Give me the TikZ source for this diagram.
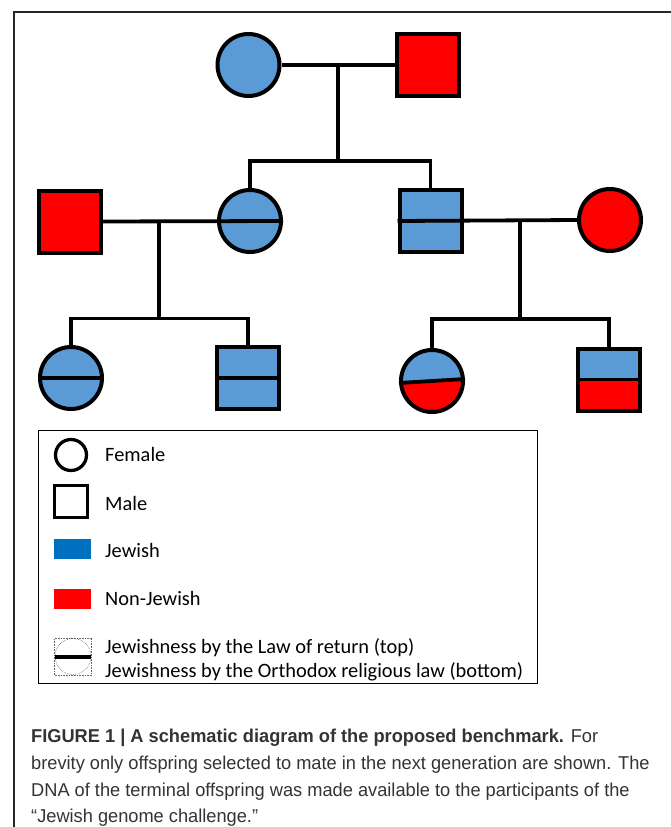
\documentclass[tikz,border=0pt]{standalone}
\usepackage{fontspec}
\setmainfont{Carlito}
\newfontfamily\capfont[FakeStretch=0.98]{Liberation Sans}
\definecolor{jblue}{HTML}{5B9BD5}
\definecolor{jdark}{HTML}{0070C0}
\definecolor{nred}{HTML}{FF0000}
\definecolor{capgray}{HTML}{333333}
\begin{document}
\begin{tikzpicture}[x=1pt,y=-1pt,
  fem/.style={circle, draw, line width=4pt, minimum size=62pt, inner sep=0pt},
  mal/.style={rectangle, draw, line width=4pt, minimum size=62pt, inner sep=0pt},
  conn/.style={line width=3.8pt},
  bluefill/.style={fill=jblue},
  redfill/.style={fill=nred},
  halfred/.style={fill=jblue, path picture={\fill[nred] ([yshift=-#1]path picture bounding box.west) -- ([yshift=#1]path picture bounding box.east) -- (path picture bounding box.south east) -- (path picture bounding box.south west) -- cycle;}},
  legtext/.style={anchor=base west, inner sep=0pt, font=\fontsize{20.4}{24}\selectfont},
  captext/.style={anchor=base west, inner sep=0pt, text=capgray, font=\capfont\fontsize{18.6}{22}\selectfont},
  lbox/.style={draw, line width=1.2pt, inner sep=0pt, minimum width=499pt, minimum height=252.6pt},
  swatch/.style={inner sep=0pt, minimum width=36.7pt, minimum height=20pt},
]
\useasboundingbox (0,0) rectangle (671,827);
% outer frame
\coordinate (fb) at (14,827);
\coordinate (ftl) at (14,12);
\coordinate (fr) at (671,12);
\draw[line width=1.4pt, black!85] (fb) -- (ftl) -- (fr);

% generation 1
\node[fem, bluefill] (t1) at (248.5,65) {};
\node[mal, redfill] (t2) at (428,65) {};
% generation 2
\node[mal, redfill] (g1) at (70,221.5) {};
\node[fem, bluefill] (g2) at (250,221) {};
\node[mal, bluefill] (g3) at (430.5,221) {};
\node[fem, redfill] (g4) at (610,220) {};
% generation 3
\node[fem, bluefill] (c1) at (71,378) {};
\node[mal, bluefill] (c2) at (248,378) {};
\node[fem, halfred=2pt] (c3) at (432,381) {};
\node[mal, halfred=0pt] (c4) at (609,379.5) {};

% connectors gen 1
\coordinate (m1) at (338,65);
\coordinate (s1) at (338,161);
\draw[conn] (t1.east) -- (t2.west);
\draw[conn] (m1) -- (s1);
\draw[conn] (g2.north) -- (g2.north |- s1) -- (g3.north |- s1) -- (g3.north);
% connectors gen 2 (lines cross the split shapes)
\coordinate (m2) at (159,221);
\coordinate (s2) at (159,318.5);
\draw[conn] (g1.east) -- (g2.east);
\draw[conn] (m2) -- (s2);
\draw[conn] (c1.north) -- (c1.north |- s2) -- (c2.north |- s2) -- (c2.north);
\coordinate (m3) at (520,220.5);
\coordinate (s3) at (520,319);
\draw[conn] (g3.west) -- (g4.west);
\draw[conn] (m3) -- (s3);
\draw[conn] (c3.north) -- (c3.north |- s3) -- (c4.north |- s3) -- (c4.north);
% split lines gen 3
\draw[conn] (c1.west) -- (c1.east);
\draw[conn] (c2.west) -- (c2.east);
\draw[conn] ([yshift=-2pt]c3.west) -- ([yshift=2pt]c3.east);
\draw[conn] (c4.west) -- (c4.east);

% legend
\node[lbox] (legend) at (287.8,557) {};
\node[circle, draw, line width=3.3pt, minimum size=31pt, inner sep=0pt] (lf) at (71,455) {};
\node[rectangle, draw, line width=3.3pt, minimum size=32.4pt, inner sep=0pt] (lm) at (71,501.5) {};
\node[swatch, fill=jdark] (lj) at (72.7,549) {};
\node[swatch, fill=nred] (ln) at (72.7,599) {};
\node[rectangle, draw=black!60, densely dotted, line width=0.6pt, minimum size=37pt, inner sep=0pt] (ls) at (73,656.5) {};
\node[circle, draw=black!60, densely dotted, line width=0.6pt, minimum size=36pt, inner sep=0pt] (lsc) at (73,656.5) {};
\draw[line width=4pt] (lsc.west) -- (lsc.east);

\node[legtext] (tf) at (105,461.7) {Female};
\node[legtext] (tm) at (105,510) {Male};
\node[legtext] (tj) at (105,557.3) {Jewish};
\node[legtext] (tn) at (105,605.7) {Non-Jewish};
\node[legtext] (tl1) at (105,653.3) {Jewishness by the Law of return (top)};
\node[legtext] (tl2) at (105,677.7) {Jewishness by the Orthodox religious law (bottom)};

% caption
\node[captext] (cap1) at (31,742) {\textbf{FIGURE 1 | A schematic diagram of the proposed benchmark.} For};
\node[captext] (cap2) at (31,769) {brevity only offspring selected to mate in the next generation are shown. The};
\node[captext] (cap3) at (31,796) {DNA of the terminal offspring was made available to the participants of the};
\node[captext] (cap4) at (31,822.5) {“Jewish genome challenge.”};
\end{tikzpicture}
\end{document}
